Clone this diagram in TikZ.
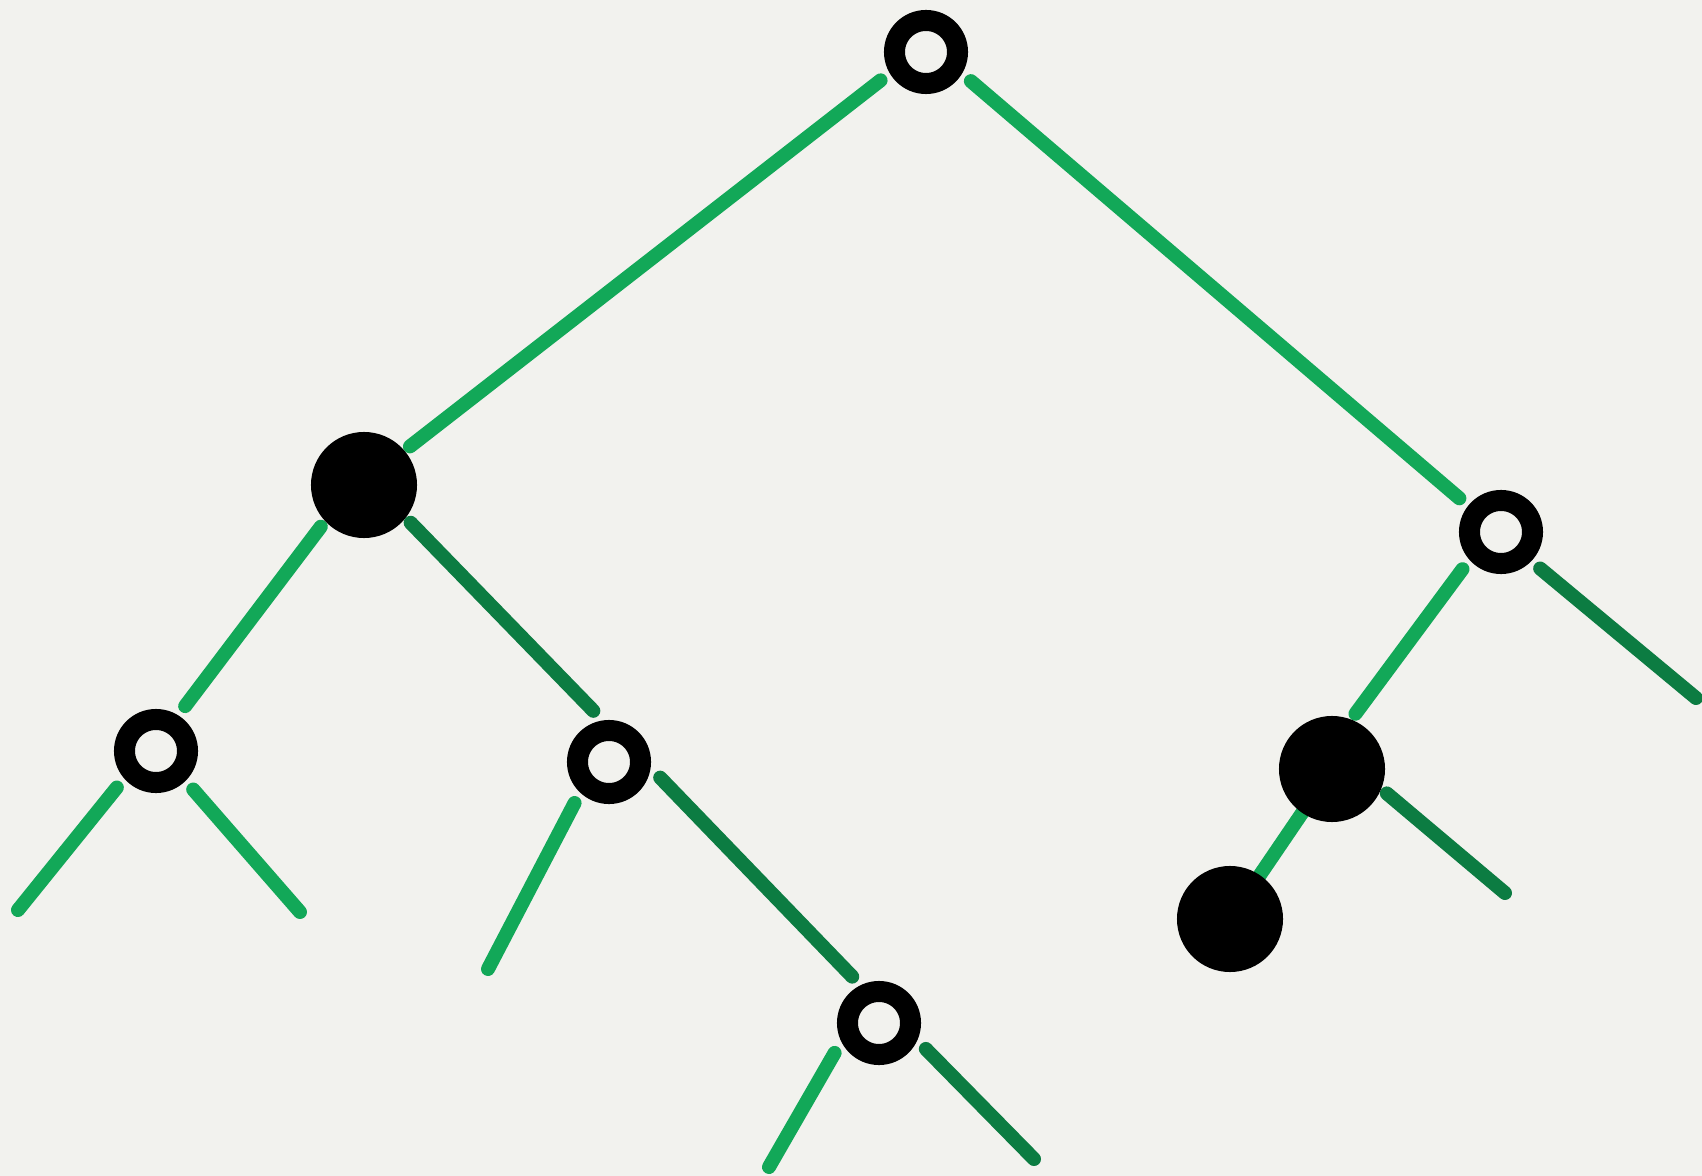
\documentclass[tikz,border=0pt]{standalone}
\pgfdeclarelayer{bg}
\pgfdeclarelayer{edges}
\pgfsetlayers{bg,edges,main}
\definecolor{paper}{RGB}{242,242,238}
\definecolor{lightgreen}{RGB}{18,168,88}
\definecolor{darkgreen}{RGB}{12,124,66}
\begin{document}
\begin{tikzpicture}[x=0.01cm,y=-0.01cm,
  ring/.style={circle,draw=black,line width=2.1mm,minimum size=6.3mm,inner sep=0pt,outer sep=2.2mm},
  dot/.style={circle,fill=black,minimum size=10.6mm,inner sep=0pt,outer sep=0.7mm},
  branch/.style={line width=1.4mm,line cap=round,draw=lightgreen},
  darkbranch/.style={branch,draw=darkgreen}]
\useasboundingbox (0,0) rectangle (1702,1176);
\begin{pgfonlayer}{bg}
  \fill[paper] (0,0) rectangle (1702,1176);
\end{pgfonlayer}
% nodes
\node[ring] (root) at (926,52) {};
\node[dot]  (L)    at (364,485) {};
\node[ring] (R)    at (1501,532) {};
\node[ring] (LL)   at (156,751) {};
\node[ring] (LR)   at (609,762) {};
\node[ring] (B)    at (879,1023) {};
\node[dot]  (RM)   at (1332,769) {};
\node[dot]  (BR)   at (1230,919) {};
% free leaf ends
\coordinate (ll1) at (18,910);
\coordinate (ll2) at (300,912);
\coordinate (lr1) at (488,969);
\coordinate (b1)  at (769,1167);
\coordinate (b2)  at (1034,1159);
\coordinate (r2)  at (1696,698);
\coordinate (rm2) at (1505,893);
\begin{pgfonlayer}{edges}
  \draw[branch] (root.212) -- (L.40);
  \draw[branch] (root.-33) -- (R.141);
  \draw[branch] (L.224) -- (LL.57);
  \draw[darkbranch] (L.-39) -- (LR.107);
  \draw[branch] (R.-136) -- (RM.67);
  \draw[branch] (RM.center) -- (BR.center);
  \draw[branch] (LL.-137) -- (ll1);
  \draw[branch] (LL.-46) -- (ll2);
  \draw[branch] (LR.-130) -- (lr1);
  \draw[darkbranch] (LR.-17) -- (B.120);
  \draw[branch] (B.-146) -- (b1);
  \draw[darkbranch] (B.-29) -- (b2);
  \draw[darkbranch] (R.-43) -- (r2);
  \draw[darkbranch] (RM.-24) -- (rm2);
\end{pgfonlayer}
\end{tikzpicture}
\end{document}
